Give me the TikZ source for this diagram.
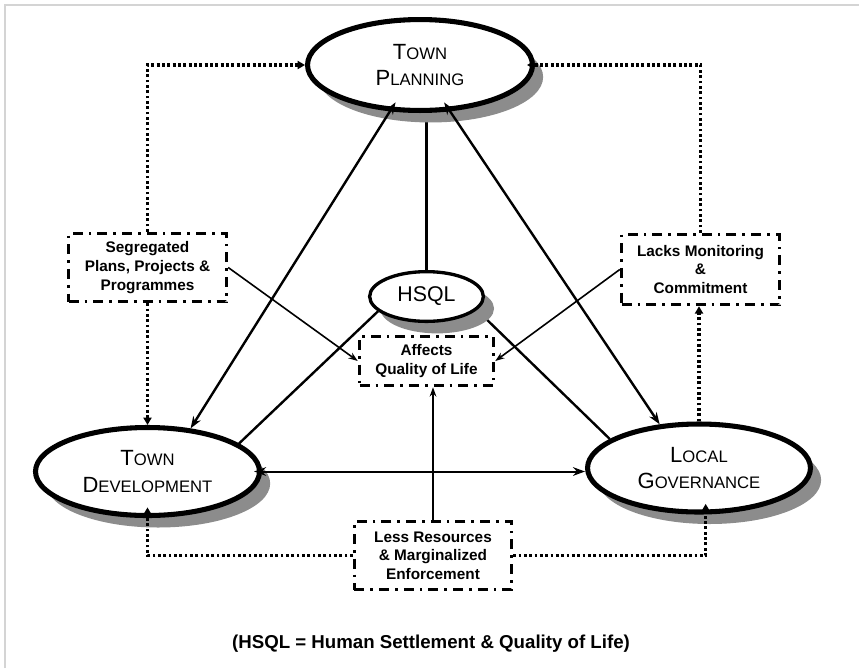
\documentclass[tikz,border=0pt]{standalone}
\usepackage{fontspec}
\setmainfont{Liberation Sans}
\usetikzlibrary{shapes.geometric,arrows.meta,shadows,backgrounds}

\newcommand{\smcap}[2]{{\fontsize{16.5}{20}\selectfont #1}{\fontsize{12.5}{20}\selectfont #2}}

\tikzset{
  oval/.style={ellipse, draw, fill=white, line width=3.8pt, inner sep=0pt, align=center,
    drop shadow={shadow xshift=8pt, shadow yshift=-9pt, fill=black!45, opacity=1},
    font=\fontsize{16.5}{20}\selectfont},
  notebox/.style={draw, fill=white, line width=2.6pt, inner sep=0pt, align=center,
    dash pattern=on 7.5pt off 4.5pt on 2pt off 4.5pt,
    font=\bfseries\fontsize{11.5}{14}\selectfont},
  dotarrow/.style={line width=2.3pt, dash pattern=on 2.1pt off 1.9pt,
    -{Triangle[length=5.5pt,width=6pt]}},
  link/.style={line width=1.8pt},
  twoway/.style={{Stealth[length=9pt,width=6.5pt]}-{Stealth[length=9pt,width=6.5pt]}},
  thinlink/.style={line width=1.2pt, -{Stealth[length=7pt,width=5pt]}},
}

\begin{document}
\begin{tikzpicture}[x=0.75pt,y=-0.75pt]
\useasboundingbox (0,0) rectangle (859,668);
\draw[line width=2.2pt, black!17] (5,668) -- (5,5) -- (859,5);

% the three sides and the centre
\node[oval, minimum width=168.7pt, minimum height=68.2pt] (tp) at (420,65) {\smcap{T}{OWN}\\\smcap{P}{LANNING}};
\node[oval, minimum width=168pt, minimum height=66pt] (td) at (147.5,471.5) {\smcap{T}{OWN}\\\smcap{D}{EVELOPMENT}};
\node[oval, minimum width=167.2pt, minimum height=66pt] (lg) at (699,468) {\smcap{L}{OCAL}\\\smcap{G}{OVERNANCE}};
\node[oval, line width=2.5pt, minimum width=85.3pt, minimum height=37.3pt, font=\fontsize{16}{19}\selectfont] (hsql) at (426.5,296.5) {HSQL};

% the gaps between them
\node[notebox, minimum width=118.5pt, minimum height=51pt] (seg) at (147.5,267.5) {Segregated\\Plans, Projects \&\\Programmes};
\node[notebox, minimum width=118.5pt, minimum height=52.5pt] (lack) at (700.5,269.5) {Lacks Monitoring\\\&\\Commitment};
\node[notebox, minimum width=100.5pt, minimum height=36.8pt] (aff) at (426.5,361) {Affects\\Quality of Life};
\node[notebox, minimum width=117.8pt, minimum height=51pt] (less) at (433,555.5) {Less Resources\\\& Marginalized\\Enforcement};

\node[font=\bfseries\fontsize{14}{17}\selectfont] (key) at (431,644) {(HSQL = Human Settlement \& Quality of Life)};

% dotted feedback
\draw[dotarrow] (seg.north) |- (tp.west);
\draw[dotarrow] (seg.south) -- (td.north);
\draw[dotarrow, shorten >=-6pt] (lack.north) |- (tp.east);
\draw[dotarrow] (lg.north) -- (lg.north |- lack.south);
\draw[dotarrow, shorten >=-8pt] (less.west) -| (td.south);
\draw[dotarrow, shorten >=-8pt] (less.east) -| ([xshift=5pt]lg.south);

% solid links
\draw[link, twoway, shorten <=-8pt] (tp.237) -- (td.45);
\draw[link, twoway, shorten <=-8pt] (tp.303) -- (lg.132);
\draw[link, line width=1.5pt, twoway, shorten <=-6pt] (td.east) -- (td.east -| lg.west);
\draw[thinlink] (seg.east) -- (aff.west);
\draw[thinlink] (lack.west) -- (aff.east);
\draw[thinlink] (less.north) -- (less.north |- aff.south);

\begin{pgfonlayer}{background}
\draw[link] (hsql.north) -- (hsql.north |- tp.south);
\draw[link] (hsql.197) -- (td.17);
\draw[link] (hsql.345) -- (lg.162);
\end{pgfonlayer}
\end{tikzpicture}
\end{document}
